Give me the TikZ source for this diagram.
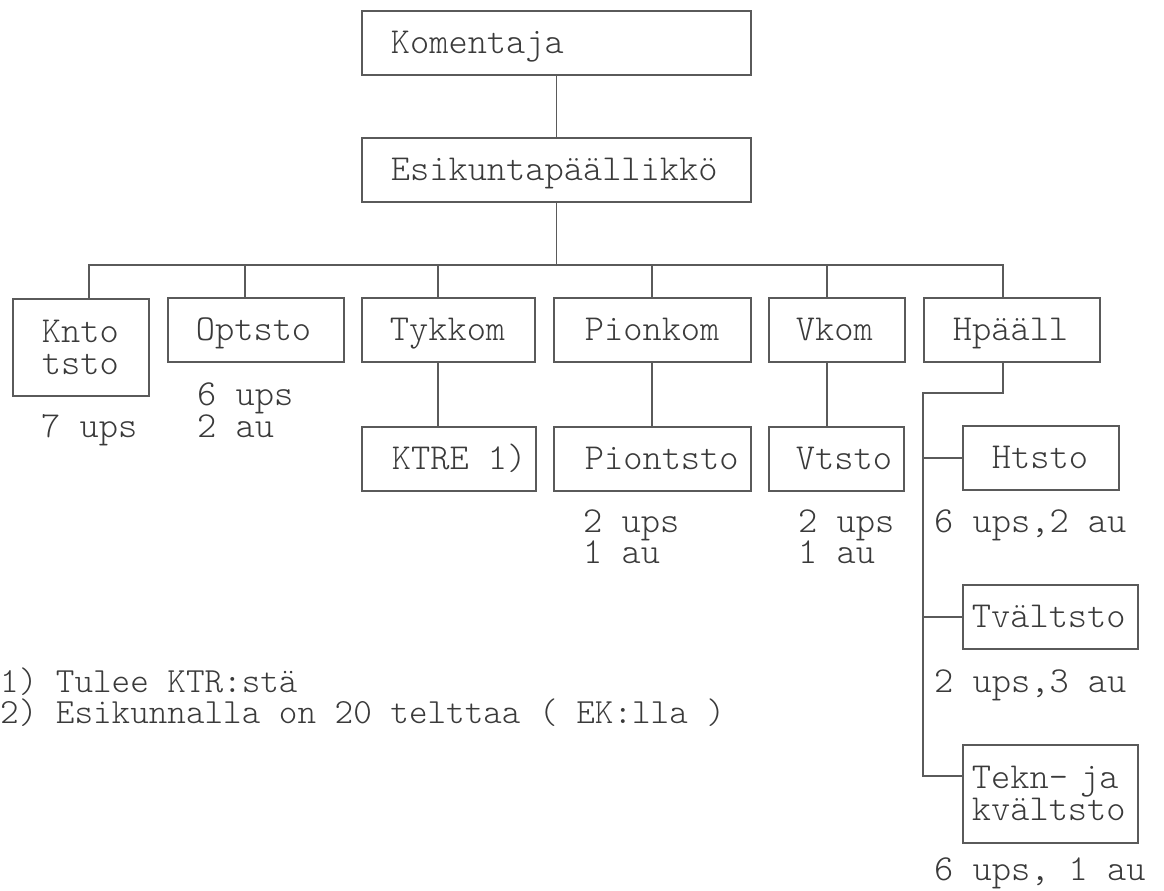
\documentclass[tikz,border=0pt]{standalone}
\usepackage{fontspec}
\newfontfamily\cour{lmmonolt10-regular.otf}
\definecolor{linec}{HTML}{5A5A5A}
\definecolor{txtc}{HTML}{3A3A3A}
\newcommand{\bxt}[2]{\makebox[#1][l]{#2}}
\begin{document}
\begin{tikzpicture}[x=1pt,y=-1pt,
  every node/.style={font=\cour\fontsize{36.6}{32}\selectfont, text=txtc},
  bx/.style={draw=linec, line width=1.8pt, rectangle, anchor=north west, inner ysep=0pt},
  one/.style={text height=22pt, text depth=0pt},
  two/.style={align=left},
  note/.style={anchor=base west, inner sep=0pt, text height=21pt, text depth=2pt},
  fnote/.style={anchor=base west, inner sep=0pt, text height=20pt, text depth=2pt, font=\cour\fontsize{35.4}{31}\selectfont},
  conn/.style={draw=linec, line width=1.8pt}]
\useasboundingbox (0,0) rectangle (1164,891);
\fill[white] (0,0) rectangle (1164,891);

% boxes
\node[bx,one,minimum width=389pt,minimum height=64pt,inner xsep=29pt] (kom) at (361,10) {\bxt{331pt}{Komentaja}};
\node[bx,one,minimum width=389pt,minimum height=64pt,inner xsep=29pt] (esik) at (361,137) {\bxt{331pt}{Esikuntapäällikkö}};

\node[bx,two,minimum width=136pt,minimum height=97pt,inner xsep=29pt,text width=78pt] (knto) at (12,298) {Knto\\tsto};
\node[bx,one,minimum width=176pt,minimum height=64pt,inner xsep=28pt] (opt) at (167,297) {\bxt{120pt}{Optsto}};
\node[bx,one,minimum width=173pt,minimum height=64pt,inner xsep=28pt] (tyk) at (361,297) {\bxt{117pt}{Tykkom}};
\node[bx,one,minimum width=197pt,minimum height=64pt,inner xsep=31pt] (pion) at (553,297) {\bxt{135pt}{Pionkom}};
\node[bx,one,minimum width=136pt,minimum height=64pt,inner xsep=27pt] (vkom) at (768,297) {\bxt{82pt}{Vkom}};
\node[bx,one,minimum width=176pt,minimum height=64pt,inner xsep=29pt] (hp) at (923,297) {\bxt{118pt}{Hpääll}};

\node[bx,one,minimum width=174pt,minimum height=64pt,inner xsep=30pt] (ktre) at (361,426) {\bxt{114pt}{KTRE 1)}};
\node[bx,one,minimum width=197pt,minimum height=64pt,inner xsep=31pt] (piont) at (553,426) {\bxt{135pt}{Piontsto}};
\node[bx,one,minimum width=135pt,minimum height=64pt,inner xsep=27pt] (vts) at (768,426) {\bxt{81pt}{Vtsto}};
\node[bx,one,minimum width=156pt,minimum height=64pt,inner xsep=29pt] (hts) at (962,425) {\bxt{98pt}{Htsto}};
\node[bx,one,minimum width=175pt,minimum height=64pt,inner xsep=9pt] (tva) at (962,584) {\bxt{157pt}{Tvältsto}};
\node[bx,two,minimum width=175pt,minimum height=98pt,inner xsep=9pt,text width=157pt] (tekn) at (962,744) {Tekn-~ja\\kvältsto};

% connector coordinates
\coordinate (cKn) at (89,265);
\coordinate (cOpt) at (245,265);
\coordinate (cTyk) at (438,265);
\coordinate (cPion) at (652,265);
\coordinate (cVk) at (827,265);
\coordinate (cHp) at (1003,265);
\coordinate (trunk) at (923,393);
\coordinate (tk) at (923,776);

% connectors
\draw[conn] (kom.south) -- (esik.north);
\draw[conn] (esik.south) -- (esik.south |- cKn);
\draw[conn] (cKn |- knto.north) -- (cKn) -- (cHp) -- (cHp |- hp.north);
\draw[conn] (cOpt) -- (cOpt |- opt.north);
\draw[conn] (cTyk) -- (cTyk |- tyk.north);
\draw[conn] (cPion) -- (cPion |- pion.north);
\draw[conn] (cVk) -- (cVk |- vkom.north);
\draw[conn] (cTyk |- tyk.south) -- (cTyk |- ktre.north);
\draw[conn] (cPion |- pion.south) -- (cPion |- piont.north);
\draw[conn] (cVk |- vkom.south) -- (cVk |- vts.north);
\draw[conn] (cHp |- hp.south) |- (trunk) -- (tk) -- (tk -| tekn.west);
\draw[conn] (trunk |- hts.west) -- (hts.west);
\draw[conn] (trunk |- tva.west) -- (tva.west);

% notes
\node[note] (n7) at (41,437) {7 ups};
\node[note] (nOa) at (197,405) {6 ups};
\node[note] (nOb) at (197,437) {2 au};
\node[note] (nPa) at (583,532) {2 ups};
\node[note] (nPb) at (583,563) {1 au};
\node[note] (nVa) at (798,532) {2 ups};
\node[note] (nVb) at (798,563) {1 au};
\node[note] (nH) at (934,532) {6 ups,2 au};
\node[note] (nT) at (934,692) {2 ups,3 au};
\node[note] (nK) at (934,880) {6 ups, 1 au};
\node[fnote] (f1) at (0,692) {1) Tulee KTR:stä};
\node[fnote] (f2) at (0,723) {2) Esikunnalla on 20 telttaa ( EK:lla )};
\end{tikzpicture}
\end{document}
